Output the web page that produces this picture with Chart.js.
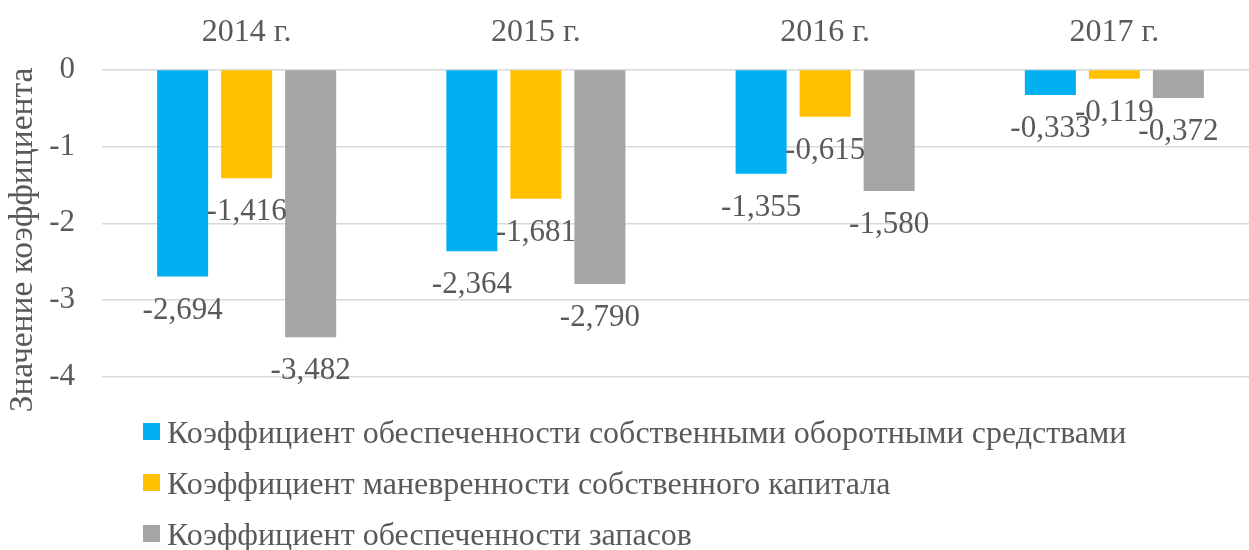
<!DOCTYPE html>
<html>
<head>
<meta charset="utf-8">
<script src="https://cdn.jsdelivr.net/npm/chart.js@4/dist/chart.umd.min.js"></script>
<style>
  html, body { margin: 0; padding: 0; background: #ffffff; overflow: hidden; }
  #wrap { width: 1249px; height: 550px; overflow: hidden; position: relative; }
  canvas { display: block; }
</style>
</head>
<body>
<div id="wrap"><canvas id="c" width="1260" height="550"></canvas></div>
<script>
const categories = ['2014 г.', '2015 г.', '2016 г.', '2017 г.'];
const seriesNames = [
  'Коэффициент обеспеченности собственными оборотными средствами',
  'Коэффициент маневренности собственного капитала',
  'Коэффициент обеспеченности запасов'
];
const ownWorkingCapital = [-2.694, -2.364, -1.355, -0.333];
const equityManeuverability = [-1.416, -1.681, -0.615, -0.119];
const inventoryCoverage = [-3.482, -2.790, -1.580, -0.372];
const yTicks = [0, -1, -2, -3, -4];
const yTitle = 'Значение коэффициента';
const colors = ['#00B0F0', '#FFC000', '#A5A5A5'];

const FONT = "'Liberation Serif', 'Times New Roman', serif";
const TXT = '#595959';

const dataLabels = {
  id: 'dataLabels',
  afterDatasetsDraw(chart) {
    const ctx = chart.ctx;
    ctx.save();
    ctx.font = '31px ' + FONT;
    ctx.fillStyle = TXT;
    ctx.textAlign = 'center';
    ctx.textBaseline = 'alphabetic';
    chart.data.datasets.forEach((ds, di) => {
      const meta = chart.getDatasetMeta(di);
      meta.data.forEach((bar, i) => {
        const v = ds.data[i];
        const t = v.toFixed(3).replace('.', ',');
        ctx.fillText(t, bar.x, bar.y + 42);
      });
    });
    ctx.restore();
  }
};

const customDecor = {
  id: 'customDecor',
  afterDraw(chart) {
    const ctx = chart.ctx;
    ctx.save();
    // y axis title
    ctx.font = '33.5px ' + FONT;
    ctx.fillStyle = TXT;
    ctx.translate(23, 240);
    ctx.rotate(-Math.PI / 2);
    ctx.textAlign = 'center';
    ctx.textBaseline = 'middle';
    ctx.fillText(yTitle, 0, 0);
    ctx.restore();

    // legend
    ctx.save();
    ctx.font = '32px ' + FONT;
    ctx.textAlign = 'left';
    ctx.textBaseline = 'alphabetic';
    const baselines = [443, 494, 545];
    chart.data.datasets.forEach((ds, i) => {
      const b = baselines[i];
      ctx.fillStyle = ds.backgroundColor;
      ctx.fillRect(143, b - 20, 17, 17);
      ctx.fillStyle = TXT;
      ctx.fillText(ds.label, 167, b);
    });
    ctx.restore();
  }
};

new Chart(document.getElementById('c'), {
  type: 'bar',
  data: {
    labels: categories,
    datasets: [
      { label: seriesNames[0], data: ownWorkingCapital, backgroundColor: colors[0] },
      { label: seriesNames[1], data: equityManeuverability, backgroundColor: colors[1] },
      { label: seriesNames[2], data: inventoryCoverage, backgroundColor: colors[2] }
    ]
  },
  options: {
    responsive: false,
    animation: false,
    devicePixelRatio: 1,
    layout: { padding: { top: 0, left: 0, right: 1, bottom: 173 } },
    datasets: { bar: { categoryPercentage: 0.664, barPercentage: 0.797 } },
    plugins: {
      legend: { display: false },
      tooltip: { enabled: false },
      title: { display: false }
    },
    scales: {
      x: {
        position: 'top',
        grid: { display: false, drawTicks: false },
        border: { display: false },
        ticks: { color: TXT, font: { family: FONT, size: 32 }, padding: 18, maxRotation: 0 },
        afterFit(scale) { scale.height = 69.5; }
      },
      y: {
        min: -4,
        max: 0,
        afterBuildTicks(scale) { scale.ticks = yTicks.map(v => ({ value: v })); },
        grid: { color: '#d9d9d9', lineWidth: 1.5, drawTicks: false },
        border: { display: false },
        ticks: { color: TXT, font: { family: FONT, size: 31 }, padding: 27 },
        afterFit(scale) { scale.width = 102; }
      }
    }
  },
  plugins: [dataLabels, customDecor]
});
</script>
</body>
</html>
